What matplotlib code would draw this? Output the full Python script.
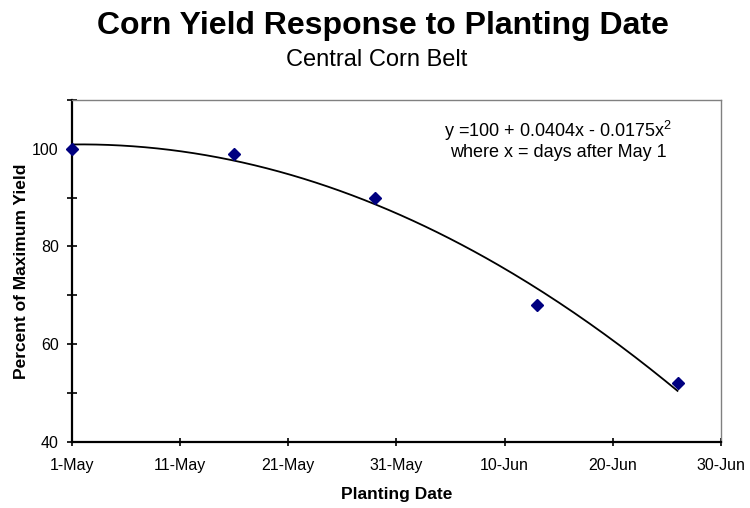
import numpy as np
import matplotlib
matplotlib.use("Agg")
from matplotlib import pyplot as plt

plt.rcParams['font.family'] = ['Liberation Sans', 'DejaVu Sans']
plt.rcParams['mathtext.fontset'] = 'custom'
plt.rcParams['mathtext.rm'] = 'Liberation Sans'
plt.rcParams['mathtext.it'] = 'Liberation Sans'

# days after May 1 and percent of max yield
days = [0, 15, 28, 43, 56]
yield_pct = [100, 99, 90, 68, 52]

tick_days = [0, 10, 20, 30, 40, 50, 60]
tick_labels = ["1-May", "11-May", "21-May", "31-May", "10-Jun", "20-Jun", "30-Jun"]
y_major = [40, 60, 80, 100]
y_minor = [50, 70, 90, 110]

fig = plt.figure(figsize=(7.5, 5.08), dpi=100)
ax = fig.add_axes([0.096, 0.1305, 0.865, 0.6725])

# quadratic trendline fitted to the points
coef = np.polyfit(days, yield_pct, 2)
xs = np.linspace(min(days), max(days), 200)
ax.plot(xs, np.polyval(coef, xs), color='black', linewidth=1.3, zorder=2)

ax.plot(days, yield_pct, linestyle='none', marker='D', markersize=6.5,
        color='#000080', zorder=3, clip_on=False)

ax.set_xlim(0, 60)
ax.set_ylim(40, 110)
ax.set_xticks(tick_days)
ax.set_xticklabels(tick_labels)
ax.set_yticks(y_major)
ax.set_yticks(y_minor, minor=True)
ax.tick_params(which='both', direction='inout', length=7, width=1.2,
               labelsize=11.5, colors='black')
ax.tick_params(axis='x', length=6, pad=9)
ax.tick_params(axis='y', which='both', pad=6)

for s in ['left', 'bottom']:
    ax.spines[s].set_linewidth(1.6)
for s in ['top', 'right']:
    ax.spines[s].set_color('#808080')
    ax.spines[s].set_linewidth(1.0)

ax.set_xlabel("Planting Date", fontsize=12.5, fontweight='bold', labelpad=10)
ax.set_ylabel("Percent of Maximum Yield", fontsize=12.5, fontweight='bold', labelpad=2)

ax.text(0.749, 0.892, "y =100 + 0.0404x - 0.0175x$^2$", transform=ax.transAxes,
        ha='center', va='baseline', fontsize=13)
ax.text(0.749, 0.833, "where x = days after May 1", transform=ax.transAxes,
        ha='center', va='baseline', fontsize=13)

fig.text(0.51, 0.933, "Corn Yield Response to Planting Date", ha='center',
         va='baseline', fontsize=23, fontweight='bold')
fig.text(0.502, 0.870, "Central Corn Belt", ha='center', va='baseline', fontsize=17)

fig.savefig("out.png", dpi=100)
